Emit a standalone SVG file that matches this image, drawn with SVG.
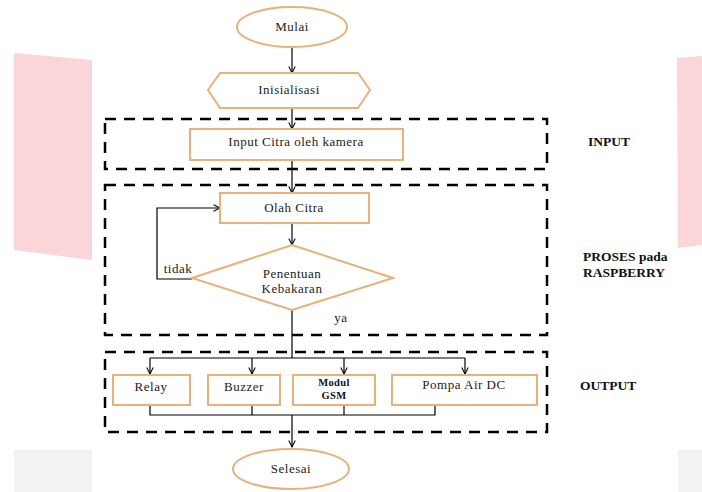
<svg xmlns="http://www.w3.org/2000/svg" width="702" height="492" viewBox="0 0 702 492">
<defs>
<marker id="arr" viewBox="0 0 10 10" refX="9" refY="5" markerWidth="8" markerHeight="8" orient="auto" markerUnits="userSpaceOnUse">
<path d="M1,1 L9,5 L1,9" fill="none" stroke="#000" stroke-width="1.3"/>
</marker>
<style>
.nd{fill:#fff;stroke:#eab07a;stroke-width:2}
.t{font-family:"Liberation Serif",serif;font-size:13px;letter-spacing:0.5px;fill:#222;text-anchor:middle}
.tb{font-family:"Liberation Serif",serif;font-size:10.5px;font-weight:bold;letter-spacing:0.3px;fill:#111;text-anchor:middle}
.lb{font-family:"Liberation Serif",serif;font-size:13.5px;font-weight:bold;fill:#111}
.c{fill:none;stroke:#000;stroke-width:1.2}
.ca{fill:none;stroke:#000;stroke-width:1.2;marker-end:url(#arr)}
.dash{fill:none;stroke:#000;stroke-width:2.5;stroke-dasharray:11,8}
</style>
</defs>
<rect width="702" height="492" fill="#fff"/>
<g id="background">
<polygon points="14,53 92,60 92,260 14,250" fill="#fcd5d8"/>
<polygon points="677,58 702,56 702,245 678,248" fill="#fcd5d8"/>
<rect x="14" y="450" width="78" height="42" fill="#f2f2f2"/>
<rect x="678" y="450" width="24" height="42" fill="#f2f2f2"/>
</g>
<g id="groups">
<rect class="dash" x="105" y="119" width="442" height="50"/>
<rect class="dash" x="105" y="185" width="442" height="150"/>
<rect class="dash" x="105" y="352" width="442" height="80"/>
<text class="lb" x="588" y="146">INPUT</text>
<text class="lb" x="583" y="261">PROSES pada</text>
<text class="lb" x="583" y="277">RASPBERRY</text>
<text class="lb" x="580" y="390">OUTPUT</text>
</g>
<g id="connectors">
<line class="ca" x1="292" y1="47" x2="292" y2="73"/>
<line class="ca" x1="292" y1="108" x2="292" y2="129"/>
<line class="ca" x1="292" y1="160" x2="292" y2="193"/>
<line class="ca" x1="292" y1="223" x2="292" y2="245"/>
<polyline class="ca" points="192,279 157,279 157,208 220,208"/>
<line class="c" x1="292" y1="310" x2="292" y2="358"/>
<line class="c" x1="150" y1="358" x2="465" y2="358"/>
<line class="ca" x1="150" y1="358" x2="150" y2="374"/>
<line class="ca" x1="252" y1="358" x2="252" y2="374"/>
<line class="ca" x1="344" y1="358" x2="344" y2="374"/>
<line class="ca" x1="465" y1="358" x2="465" y2="374"/>
<polyline class="c" points="150,405 150,415 435,415 435,405"/>
<line class="c" x1="252" y1="405" x2="252" y2="415"/>
<line class="c" x1="344" y1="405" x2="344" y2="415"/>
<line class="ca" x1="292" y1="415" x2="292" y2="447"/>
<text class="t" x="178" y="273">tidak</text>
<text class="t" x="341" y="322">ya</text>
</g>
<g id="mulai">
<ellipse class="nd" cx="292" cy="27" rx="55" ry="20"/>
<text class="t" x="292" y="31">Mulai</text>
</g>
<g id="inisialisasi">
<polygon class="nd" points="208,90 220,73 358,73 370,90 358,108 220,108"/>
<text class="t" x="289" y="94">Inisialisasi</text>
</g>
<g id="input">
<rect class="nd" x="190" y="129" width="213" height="31"/>
<text class="t" x="296" y="146">Input Citra oleh kamera</text>
</g>
<g id="olah">
<rect class="nd" x="220" y="193" width="149" height="30"/>
<text class="t" x="294" y="212">Olah Citra</text>
</g>
<g id="penentuan">
<polygon class="nd" points="292,245 393,278 292,310 192,278"/>
<text class="t" x="292" y="278">Penentuan</text>
<text class="t" x="292" y="293">Kebakaran</text>
</g>
<g id="relay">
<rect class="nd" x="113" y="375" width="77" height="30"/>
<text class="t" x="151" y="391">Relay</text>
</g>
<g id="buzzer">
<rect class="nd" x="208" y="375" width="72" height="30"/>
<text class="t" x="244" y="391">Buzzer</text>
</g>
<g id="modul">
<rect class="nd" x="293" y="375" width="82" height="30"/>
<text class="tb" x="334" y="386">Modul</text>
<text class="tb" x="334" y="399">GSM</text>
</g>
<g id="pompa">
<rect class="nd" x="392" y="375" width="145" height="30"/>
<text class="t" x="464" y="389">Pompa Air DC</text>
</g>
<g id="selesai">
<ellipse class="nd" cx="291" cy="469" rx="58" ry="20"/>
<text class="t" x="291" y="473">Selesai</text>
</g>
</svg>
